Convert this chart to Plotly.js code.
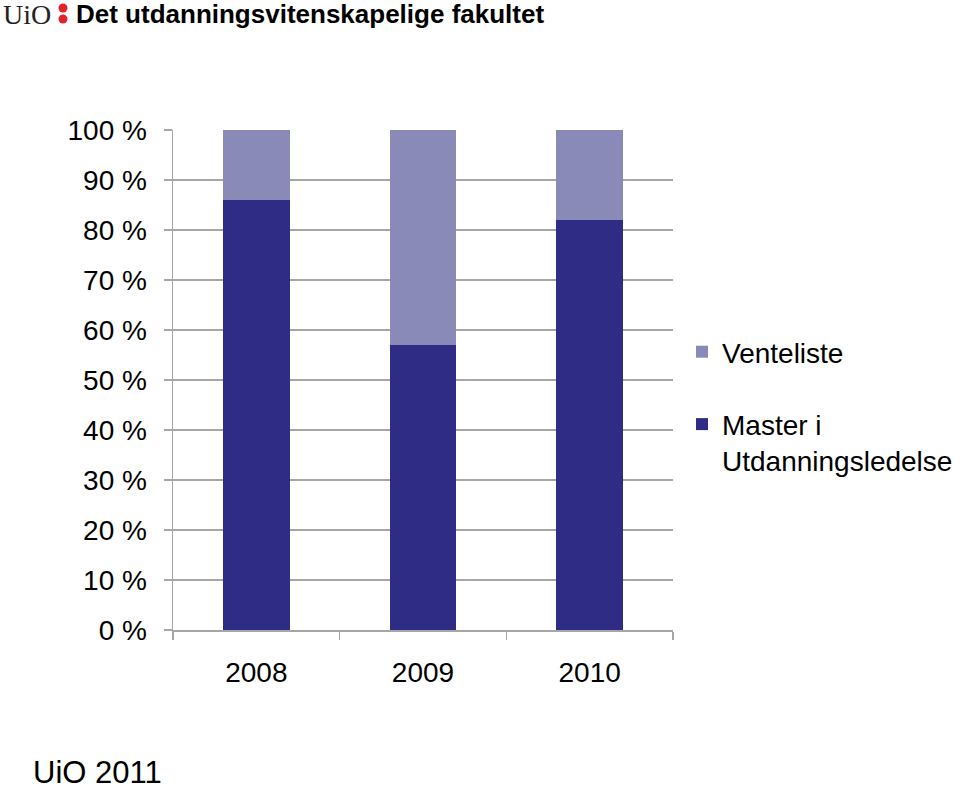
<!DOCTYPE html>
<html>
<head>
<meta charset="utf-8">
<script src="https://cdn.plot.ly/plotly-3.0.1.min.js"></script>
<style>html,body{margin:0;padding:0;background:#fff;}#chart{width:960px;height:791px;}</style>
</head>
<body>
<div id="chart"></div>
<script>
const years = ['2008', '2009', '2010'];
const master = [86, 57, 82];
const venteliste = [14, 43, 18];
const seriesNames = ['Master i<br>Utdanningsledelse', 'Venteliste'];
const tickVals = [0, 10, 20, 30, 40, 50, 60, 70, 80, 90, 100];
const tickText = tickVals.map(v => v + ' %');

const L = 173, R = 673, T = 130, B = 630, W = 960, H = 791;
const px = x => (x - L) / (R - L);
const py = y => (B - y) / (B - T);

const font = 'Liberation Sans, Arial, sans-serif';

const data = [
  {type: 'bar', x: years, y: master, name: seriesNames[0],
   marker: {color: '#2E2C84'}, hoverinfo: 'y', legendgroup: 'a', legendrank: 2},
  {type: 'bar', x: years, y: venteliste, name: seriesNames[1],
   marker: {color: '#8A8AB8'}, hoverinfo: 'y', legendgroup: 'b', legendrank: 1}
];

const layout = {
  width: W, height: H,
  margin: {l: L, r: W - R, t: T, b: H - B, pad: 0, autoexpand: false},
  paper_bgcolor: '#fff', plot_bgcolor: '#fff',
  barmode: 'stack', bargap: 0.6,
  font: {family: font, size: 28, color: '#000'},
  xaxis: {
    type: 'category', showline: true, linecolor: '#A6A6A6', linewidth: 1.5,
    ticks: 'outside', tickson: 'boundaries', ticklen: 8, tickcolor: '#A6A6A6', tickwidth: 1.5,
    showgrid: false, zeroline: false, ticklabelstandoff: 17,
    tickfont: {family: font, size: 28, color: '#000'}
  },
  yaxis: {
    range: [0, 100], tickmode: 'array', tickvals: tickVals, ticktext: tickText,
    showline: true, linecolor: '#A6A6A6', linewidth: 1.5,
    ticks: 'outside', ticklen: 8, tickcolor: '#A6A6A6', tickwidth: 1.5,
    showgrid: true, gridcolor: '#A6A6A6', gridwidth: 1.5, zeroline: false,
    ticklabelstandoff: 11,
    tickfont: {family: font, size: 28, color: '#000'}
  },
  showlegend: true,
  legend: {
    x: px(682), xanchor: 'left', y: py(327), yanchor: 'top',
    traceorder: 'grouped', tracegroupgap: 33, valign: 'top',
    font: {family: font, size: 28, color: '#000'}, bgcolor: 'rgba(0,0,0,0)'
  },
  annotations: [
    {xref: 'paper', yref: 'paper', x: px(1), y: py(14), xanchor: 'left', yanchor: 'middle',
     text: 'UiO', showarrow: false, font: {family: 'Liberation Serif, Times New Roman, serif', size: 28, color: '#222'}},
    {xref: 'paper', yref: 'paper', x: px(74), y: py(14), xanchor: 'left', yanchor: 'middle',
     text: '<b>Det utdanningsvitenskapelige fakultet</b>', showarrow: false,
     font: {family: font, size: 26, color: '#000'}},
    {xref: 'paper', yref: 'paper', x: px(32), y: py(772), xanchor: 'left', yanchor: 'middle',
     text: 'UiO 2011', showarrow: false, borderpad: 0, font: {family: font, size: 31, color: '#000'}}
  ],
  shapes: [
    {type: 'circle', xref: 'paper', yref: 'paper', xsizemode: 'pixel', ysizemode: 'pixel',
     xanchor: px(63), yanchor: py(8), x0: -4.5, x1: 4.5, y0: -4.5, y1: 4.5,
     fillcolor: '#E2232A', line: {width: 0}},
    {type: 'circle', xref: 'paper', yref: 'paper', xsizemode: 'pixel', ysizemode: 'pixel',
     xanchor: px(63), yanchor: py(19), x0: -4.5, x1: 4.5, y0: -4.5, y1: 4.5,
     fillcolor: '#E2232A', line: {width: 0}}
  ]
};

Plotly.newPlot('chart', data, layout, {displayModeBar: false, staticPlot: true});
</script>
</body>
</html>
